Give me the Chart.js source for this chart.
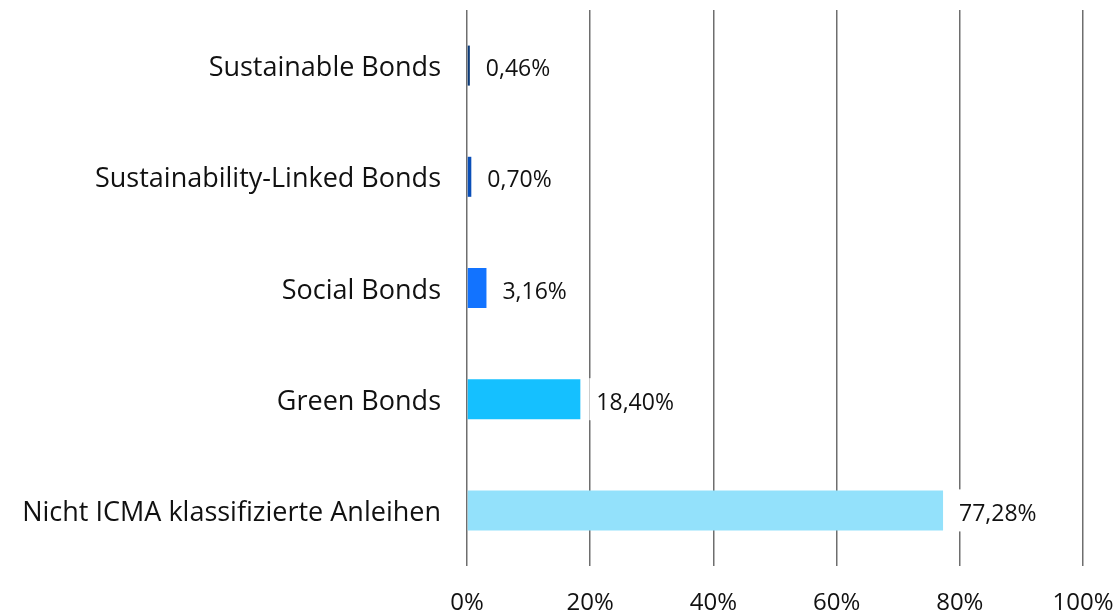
<!DOCTYPE html>
<html><head><meta charset="utf-8">
<script src="https://cdn.jsdelivr.net/npm/chart.js@4.4.1/dist/chart.umd.min.js"></script>
<style>html,body{margin:0;padding:0;background:#fff}#wrap{width:1117px;height:614px;position:relative}</style>
</head><body><div id="wrap"><canvas id="c" width="1117" height="614"></canvas></div>
<script>
const categories = ["Sustainable Bonds","Sustainability-Linked Bonds","Social Bonds","Green Bonds","Nicht ICMA klassifizierte Anleihen"];
const values = [0.46, 0.70, 3.16, 18.40, 77.28];
const valueLabels = ["0,46%","0,70%","3,16%","18,40%","77,28%"];
const barColors = ["#0b3a78","#0a4fb8","#1273ff","#15c0ff","#93e1fb"];
const tickValues = [0,20,40,60,80,100];

const FONT = "'Open Sans', sans-serif";
const valuePlugin = {
  id: 'vals',
  afterDatasetsDraw(chart){
    const ctx = chart.ctx;
    const meta = chart.getDatasetMeta(0);
    ctx.save();
    ctx.font = "23px " + FONT;
    ctx.textBaseline = 'middle';
    meta.data.forEach((bar, i) => {
      const t = valueLabels[i];
      const w = ctx.measureText(t).width;
      const x = bar.x + 16;
      const h = bar.height;
      ctx.fillStyle = '#fff';
      ctx.fillRect(x - 7, bar.y - h/2 - 1, w + 12, h + 2);
      ctx.fillStyle = '#111';
      ctx.fillText(t, x, bar.y + 4);
    });
    ctx.restore();
  }
};
const noPad = s => { s.paddingTop = 0; s.paddingBottom = 0; s.paddingLeft = 0; s.paddingRight = 0; };

new Chart(document.getElementById('c'), {
  type: 'bar',
  data: { labels: categories, datasets: [{ data: values, backgroundColor: barColors, barPercentage: 0.36, categoryPercentage: 1.0 }] },
  options: {
    indexAxis: 'y', responsive: false, animation: false,
    layout: { padding: { left: 0, right: 34, top: 10, bottom: 0 } },
    plugins: { legend: { display: false }, tooltip: { enabled: false } },
    scales: {
      x: {
        min: 0, max: 100,
        afterBuildTicks: s => { s.ticks = tickValues.map(v => ({ value: v })); },
        afterFit: s => { s.height = 48; noPad(s); },
        ticks: { font: { family: FONT, size: 24 }, color: '#111', padding: 23, callback: v => v + '%', maxRotation: 0 },
        grid: { color: '#6e6e6e', lineWidth: 1.5, drawTicks: false },
        border: { display: false }
      },
      y: {
        afterFit: s => { s.width = 467; noPad(s); },
        ticks: { font: { family: FONT, size: 27 }, color: '#111', padding: 26, labelOffset: 3 },
        grid: { display: false, drawTicks: false },
        border: { display: false }
      }
    }
  },
  plugins: [valuePlugin]
});
</script></body></html>
